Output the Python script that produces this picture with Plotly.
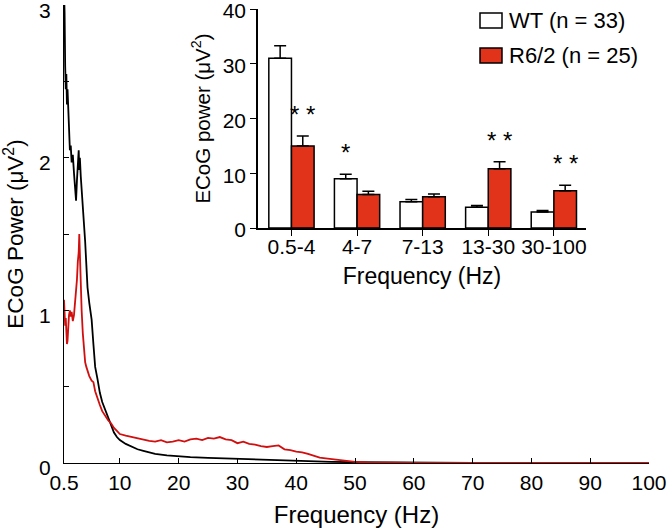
import plotly.graph_objects as go

# ---- main spectrum ----
freq_wt = [0.5, 0.6, 0.7, 0.8, 0.9, 1.0, 1.1, 1.2, 1.35, 1.5, 1.65, 1.8, 2.0, 2.2, 2.4, 2.55,
           2.7, 2.85, 3.0, 3.1, 3.2, 3.35, 3.5, 3.7, 3.9, 4.1, 4.3, 4.5, 4.8, 5.2, 5.5, 5.8,
           6.2, 6.6, 7.0, 7.5, 8.0, 8.5, 9.0, 9.5, 10, 11, 12, 13, 14, 15, 16, 18, 20, 22,
           25, 28, 30, 33, 36, 40, 43, 46, 50, 55, 60, 70, 80, 90, 100]
power_wt = [3.1, 2.95, 2.6, 2.45, 2.55, 2.35, 2.45, 2.28, 2.2, 2.05, 2.08, 1.97, 2.02, 1.9, 1.78, 1.72,
            1.85, 1.95, 2.05, 1.92, 2.0, 1.88, 1.8, 1.65, 1.55, 1.45, 1.3, 1.15, 1.05, 0.94, 0.78, 0.63,
            0.55, 0.46, 0.4, 0.35, 0.3, 0.25, 0.2, 0.17, 0.15, 0.125, 0.105, 0.09, 0.08, 0.068, 0.06, 0.05, 0.042, 0.038,
            0.033, 0.029, 0.027, 0.024, 0.02, 0.014, 0.011, 0.008, 0.005, 0.003, 0.002, 0.001, 0.001, 0.001, 0.001]

freq_r62 = [0.5, 0.6, 0.7, 0.8, 0.9, 1.0, 1.1, 1.2, 1.35, 1.5, 1.65, 1.8, 2.0, 2.2, 2.4, 2.55,
            2.7, 2.85, 3.0, 3.1, 3.2, 3.35, 3.5, 3.7, 3.9, 4.1, 4.3, 4.5, 4.8, 5.2, 5.5, 5.8,
            6.2, 6.6, 7.0, 7.5, 8.0, 8.5, 9.0, 9.5, 10, 11, 12, 13, 14, 15, 16, 17, 18, 19,
            20, 21, 22, 23, 24, 25, 26, 27, 28, 29, 30, 31, 32, 33, 34, 35, 36, 37, 38, 39,
            40, 41, 42, 43, 44, 45, 46, 47, 48, 50, 52, 55, 60, 70, 80, 90, 100]
power_r62 = [1.07, 0.98, 0.9, 0.95, 0.85, 0.78, 0.8, 0.88, 0.97, 1.0, 0.96, 0.99, 0.93, 0.97, 1.05, 1.1,
             1.2, 1.32, 1.38, 1.5, 1.36, 1.2, 1.0, 0.85, 0.72, 0.66, 0.63, 0.6, 0.57, 0.54, 0.53, 0.47,
             0.42, 0.38, 0.34, 0.31, 0.28, 0.26, 0.23, 0.21, 0.19, 0.18, 0.17, 0.16, 0.15, 0.145, 0.14, 0.15, 0.135, 0.14,
             0.15, 0.14, 0.155, 0.16, 0.15, 0.165, 0.16, 0.17, 0.155, 0.15, 0.13, 0.14, 0.125, 0.12, 0.11, 0.105, 0.11, 0.115, 0.09, 0.085,
             0.075, 0.07, 0.06, 0.045, 0.035, 0.03, 0.025, 0.02, 0.015, 0.008, 0.004, 0.002, 0.001, 0.001, 0.001, 0.001, 0.001]

main_xticks = [0.5, 10, 20, 30, 40, 50, 60, 70, 80, 90, 100]
main_yticks = [0, 0.5, 1, 1.5, 2, 2.5, 3]
main_ytext = ["0", "", "1", "", "2", "", "3"]

# ---- inset band powers ----
bands = ["0.5-4", "4-7", "7-13", "13-30", "30-100"]
wt_mean = [31.0, 9.0, 4.8, 3.8, 2.9]
wt_sem = [2.3, 0.8, 0.4, 0.3, 0.3]
r62_mean = [15.0, 6.1, 5.7, 10.8, 6.8]
r62_sem = [1.8, 0.6, 0.5, 1.3, 1.0]
stars = [(0, 1, "* *"), (1, 0, "*"), (3, 1, "* *"), (4, 1, "* *")]  # (band, group, label)

FONT = "Arial, Liberation Sans, sans-serif"
RED_LINE = "#d10f0f"
RED_BAR = "#e0331a"
BARGAP = 0.31

fig = go.Figure()

fig.add_trace(go.Scatter(x=freq_wt, y=power_wt, mode="lines",
                         line=dict(color="black", width=1.8), showlegend=False))
fig.add_trace(go.Scatter(x=freq_r62, y=power_r62, mode="lines",
                         line=dict(color=RED_LINE, width=1.8), showlegend=False))

fig.add_trace(go.Bar(x=bands, y=wt_mean, xaxis="x2", yaxis="y2", name="WT (n = 33)",
                     marker=dict(color="white", line=dict(color="black", width=1.5)),
                     error_y=dict(type="data", array=wt_sem, arrayminus=[0] * 5, symmetric=False,
                                  color="black", thickness=1.5, width=6),
                     showlegend=False))
fig.add_trace(go.Bar(x=bands, y=r62_mean, xaxis="x2", yaxis="y2", name="R6/2 (n = 25)",
                     marker=dict(color=RED_BAR, line=dict(color="black", width=1.5)),
                     error_y=dict(type="data", array=r62_sem, arrayminus=[0] * 5, symmetric=False,
                                  color="black", thickness=1.5, width=6),
                     showlegend=False))

# significance stars above the error bars
half = (1 - BARGAP) / 4
for b, g, lab in stars:
    top = (wt_mean[b] + wt_sem[b]) if g == 0 else (r62_mean[b] + r62_sem[b])
    fig.add_annotation(x=b + (half if g else -half), y=top, xref="x2", yref="y2",
                       text=lab, showarrow=False, yanchor="bottom", yshift=6,
                       font=dict(size=24, color="black", family=FONT))

# hand-made legend at top right
W, H = 667, 531
legend_items = [("WT (n = 33)", "white", 13), ("R6/2 (n = 25)", RED_BAR, 48)]
for txt, col, top in legend_items:
    fig.add_shape(type="rect", xref="paper", yref="paper",
                  x0=480 / W, x1=502 / W, y0=1 - (top + 15) / H, y1=1 - top / H,
                  fillcolor=col, line=dict(color="black", width=1.5))
    fig.add_annotation(x=507 / W, y=1 - (top + 7.5) / H, xref="paper", yref="paper",
                       text=txt, showarrow=False, xanchor="left", yanchor="middle",
                       font=dict(size=22, color="black", family=FONT))

common = dict(showgrid=False, zeroline=False, automargin=False, tickcolor="black",
              showline=True, linecolor="black", ticklabeloverflow="allow")

fig.update_layout(
    width=W, height=H,
    margin=dict(l=0, r=0, t=0, b=0),
    paper_bgcolor="white", plot_bgcolor="rgba(0,0,0,0)",
    font=dict(family=FONT, size=21, color="black"),
    barmode="group", bargap=BARGAP, bargroupgap=0,
    xaxis=dict(domain=[64 / W, 649 / W], range=[0.5, 100], tickvals=main_xticks,
               ticktext=[str(t) for t in main_xticks], ticks="inside", ticklen=5,
               linewidth=1.2, anchor="y", ticklabelstandoff=1,
               title=dict(text="Frequency (Hz)", standoff=12, font=dict(size=24)), **common),
    yaxis=dict(domain=[1 - 463 / H, 1 - 5 / H], range=[0, 3.002], tickvals=main_yticks,
               ticktext=main_ytext, ticks="inside", ticklen=5, ticklabelshift=5,
               linewidth=1.2, anchor="x", ticklabelstandoff=8,
               title=dict(text="ECoG Power (\u03bcV<sup>2</sup>)", standoff=15, font=dict(size=22.5)),
               **common),
    xaxis2=dict(domain=[258 / W, 586 / W], range=[-0.51, 4.49], type="category",
                ticks="outside", ticklen=6, linewidth=1.5, ticklabelstandoff=-7,
                anchor="y2", title=dict(text="Frequency (Hz)", standoff=11, font=dict(size=23)),
                **common),
    yaxis2=dict(domain=[1 - 228 / H, 1 - 9 / H], range=[0, 40], tickvals=[0, 10, 20, 30, 40],
                ticks="outside", ticklen=6, linewidth=1.5, ticklabelshift=2,
                anchor="x2", title=dict(text="ECoG power (\u03bcV<sup>2</sup>)", standoff=7,
                                        font=dict(size=20.5)), **common),
)

fig.write_html("out.html", config={"displayModeBar": False},
               post_script="document.body.style.margin='0';")
